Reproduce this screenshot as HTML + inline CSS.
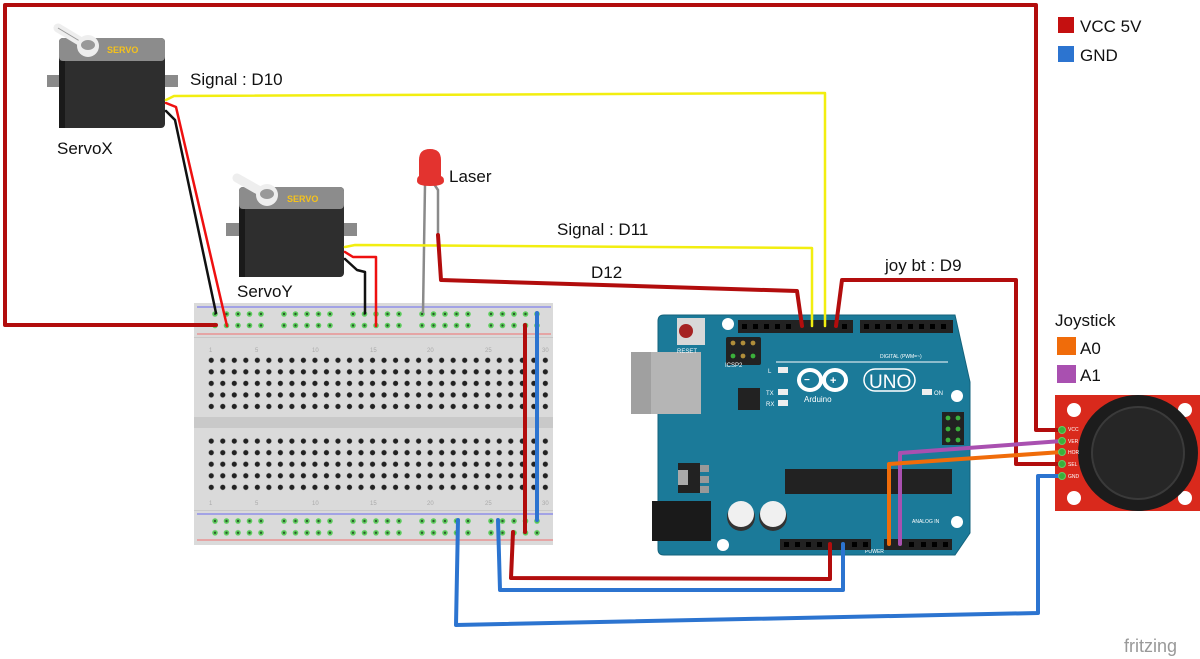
<!DOCTYPE html>
<html><head><meta charset="utf-8"><style>
html,body{margin:0;padding:0;background:#fff}
svg{display:block}
text{font-family:"Liberation Sans",sans-serif}
</style></head><body>
<svg width="1200" height="659" viewBox="0 0 1200 659" xmlns="http://www.w3.org/2000/svg">
<defs>
<pattern id="holes" x="205.5" y="354.5" width="11.52" height="11.55" patternUnits="userSpaceOnUse">
<circle cx="5.76" cy="5.78" r="2.6" fill="#222"/>
</pattern>
<pattern id="rail" x="209" y="308" width="69" height="11.5" patternUnits="userSpaceOnUse">
<circle cx="6" cy="6" r="2.8" fill="#5fce5f"/><circle cx="17.5" cy="6" r="2.8" fill="#5fce5f"/><circle cx="29" cy="6" r="2.8" fill="#5fce5f"/><circle cx="40.5" cy="6" r="2.8" fill="#5fce5f"/><circle cx="52" cy="6" r="2.8" fill="#5fce5f"/>
<circle cx="6" cy="6" r="1.2" fill="#2a5a2a"/><circle cx="17.5" cy="6" r="1.2" fill="#2a5a2a"/><circle cx="29" cy="6" r="1.2" fill="#2a5a2a"/><circle cx="40.5" cy="6" r="1.2" fill="#2a5a2a"/><circle cx="52" cy="6" r="1.2" fill="#2a5a2a"/>
</pattern>
<pattern id="rail2" x="209" y="515" width="69" height="11.8" patternUnits="userSpaceOnUse">
<circle cx="6" cy="6" r="2.8" fill="#5fce5f"/><circle cx="17.5" cy="6" r="2.8" fill="#5fce5f"/><circle cx="29" cy="6" r="2.8" fill="#5fce5f"/><circle cx="40.5" cy="6" r="2.8" fill="#5fce5f"/><circle cx="52" cy="6" r="2.8" fill="#5fce5f"/>
<circle cx="6" cy="6" r="1.2" fill="#2a5a2a"/><circle cx="17.5" cy="6" r="1.2" fill="#2a5a2a"/><circle cx="29" cy="6" r="1.2" fill="#2a5a2a"/><circle cx="40.5" cy="6" r="1.2" fill="#2a5a2a"/><circle cx="52" cy="6" r="1.2" fill="#2a5a2a"/>
</pattern>
<pattern id="hdr" x="0" y="0" width="10.6" height="20" patternUnits="userSpaceOnUse">
<rect x="3" y="3" width="5" height="5" fill="#111"/>
</pattern>
</defs>

<!-- Breadboard -->
<rect x="194" y="303" width="359" height="242" fill="#dadada"/>
<rect x="194" y="417" width="359" height="11" fill="#c9c9c9"/>
<line x1="197" y1="307" x2="551" y2="307" stroke="#6a6af0" stroke-width="1"/>
<line x1="197" y1="334" x2="551" y2="334" stroke="#f07070" stroke-width="1"/>
<line x1="197" y1="514" x2="553" y2="514" stroke="#6a6af0" stroke-width="1"/>
<line x1="197" y1="540" x2="553" y2="540" stroke="#f07070" stroke-width="1"/>
<rect x="194" y="337" width="359" height="1" fill="#c8c8c8"/>
<rect x="194" y="510" width="359" height="1" fill="#c8c8c8"/>
<rect x="205.5" y="354.5" width="345.6" height="57.8" fill="url(#holes)"/>
<rect x="205.5" y="434.8" width="345.6" height="57.8" fill="url(#holes)"/>
<rect x="209" y="308" width="345" height="23" fill="url(#rail)"/>
<rect x="209" y="515" width="345" height="23.6" fill="url(#rail2)"/>
<g font-size="6" fill="#aaa">
<text x="209" y="352">1</text><text x="255" y="352">5</text><text x="312" y="352">10</text><text x="370" y="352">15</text><text x="427" y="352">20</text><text x="485" y="352">25</text><text x="542" y="352">30</text>
<text x="209" y="505">1</text><text x="255" y="505">5</text><text x="312" y="505">10</text><text x="370" y="505">15</text><text x="427" y="505">20</text><text x="485" y="505">25</text><text x="542" y="505">30</text>
</g>

<!-- Arduino -->
<path d="M664,315 L955,315 L970,382 L970,533 L955,555 L664,555 Q658,555 658,549 L658,321 Q658,315 664,315 Z" fill="#1b7a99" stroke="#15637c" stroke-width="1"/>
<rect x="631" y="352" width="70" height="62" fill="#b5b5b5"/>
<rect x="631" y="352" width="20" height="62" fill="#a0a0a0"/>
<rect x="652" y="501" width="59" height="40" fill="#1a1a1a"/>
<rect x="677" y="318" width="28" height="27" fill="#d8d8d8"/>
<circle cx="686" cy="331" r="7" fill="#a52222"/>
<text x="677" y="353" font-size="6" fill="#fff">RESET</text>
<rect x="726" y="337" width="35" height="28" fill="#222" rx="2"/>
<circle cx="733" cy="343" r="2.4" fill="#b08e3a"/><circle cx="743" cy="343" r="2.4" fill="#b08e3a"/><circle cx="753" cy="343" r="2.4" fill="#b08e3a"/>
<circle cx="733" cy="356" r="2.4" fill="#3bb03b"/><circle cx="743" cy="356" r="2.4" fill="#b08e3a"/><circle cx="753" cy="356" r="2.4" fill="#3bb03b"/>
<text x="725" y="367" font-size="6" fill="#fff">ICSP2</text>
<circle cx="728" cy="324" r="6" fill="#fff"/>
<circle cx="957" cy="396" r="6" fill="#fff"/>
<circle cx="957" cy="522" r="6" fill="#fff"/>
<circle cx="723" cy="545" r="6" fill="#fff"/>
<rect x="738" y="320" width="115" height="13" fill="#222"/>
<rect x="738" y="320" width="115" height="13" fill="url(#hdr)" opacity="0"/>
<rect x="860" y="320" width="93" height="13" fill="#222"/>
<g fill="#000">
<rect x="742" y="324" width="5" height="5"/><rect x="753" y="324" width="5" height="5"/><rect x="764" y="324" width="5" height="5"/><rect x="775" y="324" width="5" height="5"/><rect x="786" y="324" width="5" height="5"/><rect x="842" y="324" width="5" height="5"/>
<rect x="864" y="324" width="5" height="5"/><rect x="875" y="324" width="5" height="5"/><rect x="886" y="324" width="5" height="5"/><rect x="897" y="324" width="5" height="5"/><rect x="908" y="324" width="5" height="5"/><rect x="919" y="324" width="5" height="5"/><rect x="930" y="324" width="5" height="5"/><rect x="941" y="324" width="5" height="5"/>
</g>
<g font-size="5" fill="#fff">
<text x="880" y="358">DIGITAL (PWM=~)</text>
<text x="865" y="553">POWER</text><text x="912" y="523">ANALOG IN</text>
</g>
<line x1="776" y1="362" x2="948" y2="362" stroke="#fff" stroke-width="1"/>
<rect x="778" y="367" width="10" height="6" fill="#eee"/><text x="768" y="373" font-size="6" fill="#fff">L</text>
<rect x="778" y="389" width="10" height="6" fill="#eee"/><text x="766" y="395" font-size="6" fill="#fff">TX</text>
<rect x="778" y="400" width="10" height="6" fill="#eee"/><text x="766" y="406" font-size="6" fill="#fff">RX</text>
<rect x="922" y="389" width="10" height="6" fill="#eee"/><text x="934" y="395" font-size="6" fill="#fff">ON</text>
<rect x="738" y="388" width="22" height="22" fill="#222"/>
<g fill="none" stroke="#fff" stroke-width="4">
<ellipse cx="810" cy="380" rx="11" ry="10"/><ellipse cx="835" cy="380" rx="11" ry="10"/>
</g>
<text x="804" y="383" font-size="10" fill="#fff" font-weight="bold">−</text><text x="830" y="384" font-size="11" fill="#fff" font-weight="bold">+</text>
<rect x="864" y="369" width="51" height="22" rx="11" fill="none" stroke="#fff" stroke-width="1.5"/>
<text x="869" y="388" font-size="19" fill="#fff">UNO</text>
<text x="804" y="402" font-size="8" fill="#fff">Arduino</text>
<rect x="942" y="412" width="22" height="33" fill="#222"/>
<circle cx="948" cy="418" r="2.4" fill="#3bb03b"/><circle cx="958" cy="418" r="2.4" fill="#3bb03b"/>
<circle cx="948" cy="429" r="2.4" fill="#3bb03b"/><circle cx="958" cy="429" r="2.4" fill="#3bb03b"/>
<circle cx="948" cy="440" r="2.4" fill="#3bb03b"/><circle cx="958" cy="440" r="2.4" fill="#3bb03b"/>
<rect x="785" y="469" width="167" height="25" fill="#222"/>
<rect x="678" y="463" width="22" height="30" fill="#222"/><rect x="700" y="465" width="9" height="7" fill="#999"/><rect x="700" y="476" width="9" height="7" fill="#999"/><rect x="700" y="486" width="9" height="7" fill="#999"/><rect x="678" y="470" width="10" height="15" fill="#aaa"/>
<circle cx="741" cy="517" r="14" fill="#333"/><circle cx="741" cy="514" r="13" fill="#f0f0f0"/>
<circle cx="773" cy="517" r="14" fill="#333"/><circle cx="773" cy="514" r="13" fill="#f0f0f0"/>
<rect x="780" y="539" width="91" height="11" fill="#222"/>
<rect x="884" y="539" width="68" height="11" fill="#222"/>
<g fill="#000">
<rect x="784" y="542" width="5" height="5"/><rect x="795" y="542" width="5" height="5"/><rect x="806" y="542" width="5" height="5"/><rect x="817" y="542" width="5" height="5"/><rect x="852" y="542" width="5" height="5"/><rect x="863" y="542" width="5" height="5"/>
<rect x="909" y="542" width="5" height="5"/><rect x="921" y="542" width="5" height="5"/><rect x="932" y="542" width="5" height="5"/><rect x="943" y="542" width="5" height="5"/>
</g>

<!-- Joystick board -->
<rect x="1055" y="395" width="145" height="116" fill="#d9291c"/>
<circle cx="1074" cy="410" r="7" fill="#fff"/><circle cx="1185" cy="410" r="7" fill="#fff"/>
<circle cx="1074" cy="498" r="7" fill="#fff"/><circle cx="1185" cy="498" r="7" fill="#fff"/>
<ellipse cx="1138" cy="453" rx="60" ry="58" fill="#1c1c1c"/>
<circle cx="1138" cy="453" r="47" fill="#3a3a3a"/>
<circle cx="1138" cy="453" r="45" fill="#262626"/>
<g font-size="5" fill="#fff"><text x="1068" y="431">VCC</text><text x="1068" y="443">VER</text><text x="1068" y="454">HOR</text><text x="1068" y="466">SEL</text><text x="1068" y="478">GND</text></g>

<!-- Servo X -->
<rect x="47" y="75" width="131" height="12" fill="#8a8a8a"/>
<rect x="59" y="38" width="106" height="90" rx="4" fill="#2e2e2e"/>
<rect x="59" y="38" width="106" height="23" rx="4" fill="#8c8c8c"/>
<rect x="59" y="61" width="6" height="67" fill="#1a1a1a"/>
<line x1="58" y1="28" x2="88" y2="46" stroke="#eee" stroke-width="9" stroke-linecap="round"/>
<line x1="58" y1="28" x2="88" y2="46" stroke="#999" stroke-width="1" />
<circle cx="88" cy="46" r="11" fill="#eee"/><ellipse cx="88" cy="45" rx="7" ry="5" fill="#999"/>
<text x="107" y="53" font-size="9" font-weight="bold" fill="#f5c21b">SERVO</text>

<!-- Servo Y -->
<rect x="226" y="223" width="131" height="13" fill="#8a8a8a"/>
<rect x="239" y="187" width="105" height="90" rx="4" fill="#2e2e2e"/>
<rect x="239" y="187" width="105" height="22" rx="4" fill="#8c8c8c"/>
<rect x="239" y="209" width="6" height="68" fill="#1a1a1a"/>
<line x1="237" y1="178" x2="267" y2="195" stroke="#eee" stroke-width="9" stroke-linecap="round"/>
<circle cx="267" cy="195" r="11" fill="#eee"/><ellipse cx="267" cy="194" rx="7" ry="5" fill="#999"/>
<text x="287" y="202" font-size="9" font-weight="bold" fill="#f5c21b">SERVO</text>

<!-- LED -->
<line x1="425" y1="184" x2="423" y2="313" stroke="#8a8a8a" stroke-width="2.5"/>
<polyline points="434,184 438,190 438,235" fill="none" stroke="#8a8a8a" stroke-width="2.5"/>
<path d="M419,160 Q419,149 430,149 Q441,149 441,160 L441,176 Q444,177 444,181 Q444,186 430,186 Q417,186 417,181 Q417,177 419,176 Z" fill="#e3332f"/>

<!-- Wires -->
<g fill="none" stroke-linejoin="round" stroke-linecap="round">
<polyline points="216,325 5,325 5,5 1036,5 1036,430 1062,430" stroke="#b20d0d" stroke-width="4"/>
<polyline points="166,100 174,96 825,93 825,326" stroke="#f2ee10" stroke-width="2.5"/>
<polyline points="345,247 355,245 812,248 812,326" stroke="#f2ee10" stroke-width="2.5"/>
<polyline points="166,111 175,120 216,313" stroke="#111" stroke-width="2.5"/>
<polyline points="166,103 176,107 227,326" stroke="#ee1010" stroke-width="2.5"/>
<polyline points="345,259 357,270 365,272 365,313" stroke="#111" stroke-width="2.5"/>
<polyline points="345,252 353,257 376,257 376,326" stroke="#ee1010" stroke-width="2.5"/>
<polyline points="438,235 441,280 797,291 802,326" stroke="#b20d0d" stroke-width="4"/>
<polyline points="836,326 842,280 1016,280 1016,464 1062,464" stroke="#b20d0d" stroke-width="4"/>
<polyline points="525,325 525,532" stroke="#b20d0d" stroke-width="4"/>
<polyline points="537,313 537,520" stroke="#2c74d0" stroke-width="4"/>
<polyline points="513,532 511,578 830,579 830,544" stroke="#b20d0d" stroke-width="4"/>
<polyline points="498,520 500,590 843,590 843,544" stroke="#2c74d0" stroke-width="4"/>
<polyline points="458,520 456,625 1038,613 1038,476 1062,476" stroke="#2c74d0" stroke-width="4"/>
<polyline points="900,544 900,453 1062,441" stroke="#a950b0" stroke-width="4"/>
<polyline points="889,544 889,464 1062,452" stroke="#f06c0a" stroke-width="4"/>
</g>
<g fill="#3bb03b" stroke="#6c6" stroke-width="1">
<circle cx="1062" cy="430" r="3.5"/><circle cx="1062" cy="441" r="3.5"/><circle cx="1062" cy="452" r="3.5"/><circle cx="1062" cy="464" r="3.5"/><circle cx="1062" cy="476" r="3.5"/>
</g>

<!-- Labels -->
<g font-size="17" fill="#111">
<text x="190" y="85">Signal : D10</text>
<text x="57" y="154">ServoX</text>
<text x="237" y="297">ServoY</text>
<text x="449" y="182">Laser</text>
<text x="557" y="235">Signal : D11</text>
<text x="591" y="278">D12</text>
<text x="885" y="271">joy bt : D9</text>
<text x="1055" y="326">Joystick</text>
<text x="1080" y="354">A0</text>
<text x="1080" y="381">A1</text>
<text x="1080" y="32">VCC 5V</text>
<text x="1080" y="61">GND</text>
</g>
<rect x="1058" y="17" width="16" height="16" fill="#c41010"/>
<rect x="1058" y="46" width="16" height="16" fill="#2c74d0"/>
<rect x="1057" y="337" width="19" height="18" fill="#f06c0a"/>
<rect x="1057" y="365" width="19" height="18" fill="#a950b0"/>
<text x="1124" y="652" font-size="18" fill="#999">fritzing</text>
</svg>
</body></html>
